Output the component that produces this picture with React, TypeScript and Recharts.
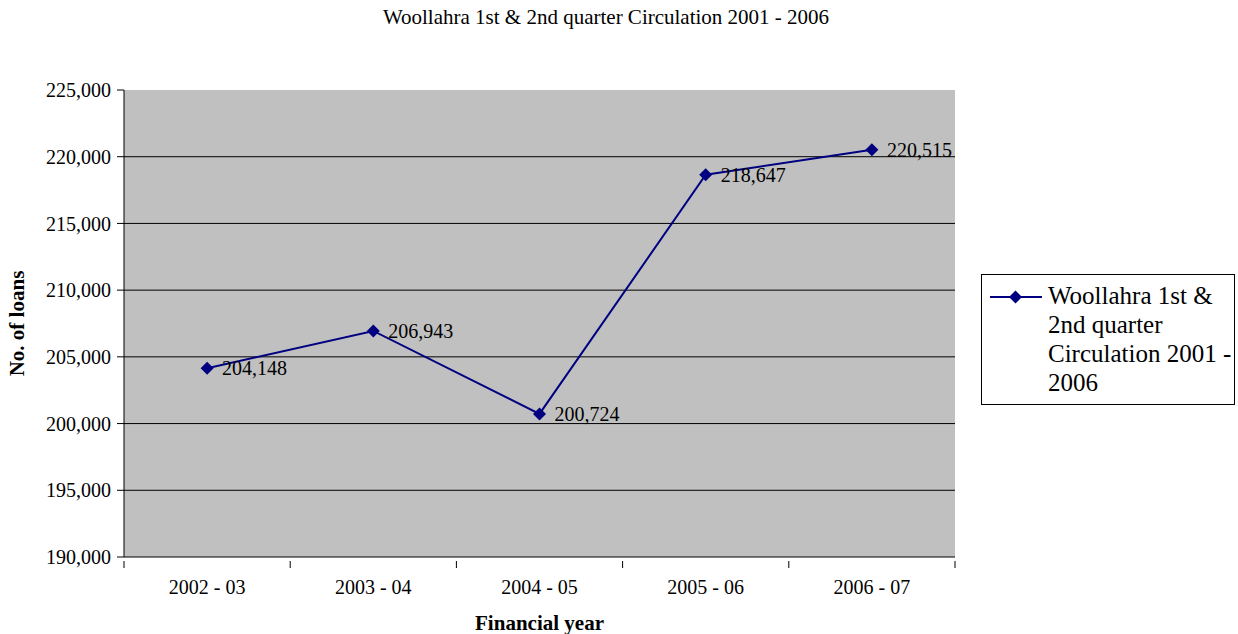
import React from 'react';
import { LineChart, Line, XAxis, YAxis, CartesianGrid, LabelList } from 'recharts';

const SERIES_NAME = 'Woollahra 1st & 2nd quarter Circulation 2001 - 2006';
const YEARS = ['2002 - 03', '2003 - 04', '2004 - 05', '2005 - 06', '2006 - 07'];
const LOANS = [204148, 206943, 200724, 218647, 220515];
const Y_TICKS = [190000, 195000, 200000, 205000, 210000, 215000, 220000, 225000];

const NAVY = '#000080';
const FONT = '"Liberation Serif", "Times New Roman", serif';

const data = YEARS.map((year, i) => ({ year, loans: LOANS[i] }));

// width of one category band; ticks sit on band edges, points in the middle
const BAND = (955 - 124) / YEARS.length;

const Diamond = (props: any) => {
    const { cx, cy } = props;
    if (cx == null || cy == null) return null;
    const r = 6.5;
    return <polygon points={`${cx},${cy - r} ${cx + r},${cy} ${cx},${cy + r} ${cx - r},${cy}`} fill={NAVY} />;
};

const YearTick = (props: any) => {
    const { x, y, payload, index } = props;
    const left = x - BAND / 2;
    return (
        <g>
            <line x1={left} y1={y - 2} x2={left} y2={y + 5} stroke="#000" />
            {index === YEARS.length - 1 && (
                <line x1={x + BAND / 2} y1={y - 2} x2={x + BAND / 2} y2={y + 5} stroke="#000" />
            )}
            <text x={x} y={y + 31} textAnchor="middle" fontSize={20} fontFamily={FONT} fill="#000">
                {payload.value}
            </text>
        </g>
    );
};

const LegendBox = () => (
    <div style={{
        position: 'absolute', left: 981, top: 274, width: 254, height: 131,
        border: '1px solid #000', boxSizing: 'border-box', display: 'flex', alignItems: 'flex-start',
        padding: '6px 0 0 7px', fontFamily: FONT, fontSize: 25, lineHeight: '29px', background: '#fff',
    }}>
        <svg width={54} height={29} style={{ flexShrink: 0 }}>
            <line x1={1} y1={16} x2={53} y2={16} stroke={NAVY} strokeWidth={2} />
            <polygon points="26.5,9.5 33,16 26.5,22.5 20,16" fill={NAVY} />
        </svg>
        <div style={{ color: '#000', marginLeft: 5, width: 186 }}>{SERIES_NAME}</div>
    </div>
);

export default function App() {
    return (
        <div style={{ position: 'absolute', left: 0, top: 0, width: 1238, height: 634, background: '#fff' }}>
            <div style={{
                position: 'absolute', top: 5, left: 0, width: 1212, textAlign: 'center',
                fontFamily: FONT, fontSize: 21, color: '#000',
            }}>
                {SERIES_NAME}
            </div>
            <LineChart width={1238} height={634} data={data} margin={{ top: 90, right: 283, bottom: 47, left: 14 }}>
                <CartesianGrid
                    fill="#c0c0c0"
                    vertical={false}
                    stroke="#000"
                    strokeOpacity={1}
                    horizontalValues={[195000, 200000, 205000, 210000, 215000, 220000]}
                />
                <XAxis
                    dataKey="year"
                    height={30}
                    padding={{ left: BAND / 2, right: BAND / 2 }}
                    axisLine={{ stroke: '#000' }}
                    tickLine={false}
                    tickMargin={0}
                    tick={<YearTick />}
                    interval={0}
                    label={{ value: 'Financial year', position: 'insideBottom', offset: -43, fontFamily: FONT, fontSize: 21, fontWeight: 'bold', fill: '#000' }}
                />
                <YAxis
                    width={110}
                    domain={[190000, 225000]}
                    ticks={Y_TICKS}
                    interval={0}
                    axisLine={{ stroke: '#000' }}
                    tickLine={{ stroke: '#000' }}
                    tickSize={7}
                    tickMargin={6}
                    tickFormatter={(v: number) => v.toLocaleString('en-US')}
                    tick={{ fontFamily: FONT, fontSize: 20, fill: '#000' }}
                    label={{ value: 'No. of loans', angle: -90, position: 'insideLeft', offset: 0, dx: 3, fontFamily: FONT, fontSize: 21, fontWeight: 'bold', fill: '#000', style: { textAnchor: 'middle' } }}
                />
                <Line
                    dataKey="loans"
                    name={SERIES_NAME}
                    stroke={NAVY}
                    strokeWidth={2}
                    dot={<Diamond />}
                    activeDot={false}
                    isAnimationActive={false}
                >
                    <LabelList
                        dataKey="loans"
                        position="right"
                        offset={15}
                        formatter={(v: any) => Number(v).toLocaleString('en-US')}
                        style={{ fontFamily: FONT, fontSize: 20, fill: '#000' }}
                    />
                </Line>
            </LineChart>
            <LegendBox />
        </div>
    );
}
